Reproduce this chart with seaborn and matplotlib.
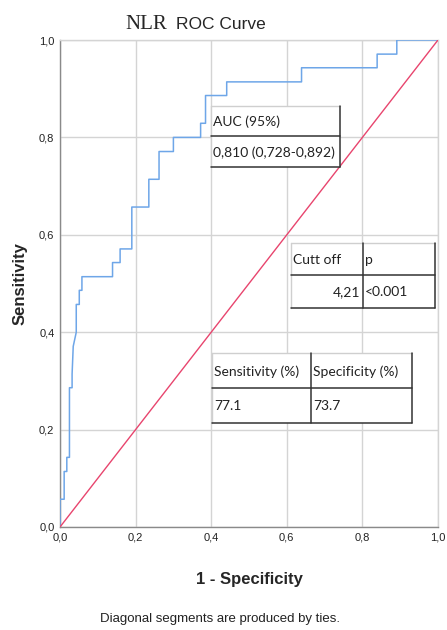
import matplotlib
matplotlib.use("Agg")
import matplotlib.pyplot as plt
import seaborn as sns
import pandas as pd

# ROC curve (1 - specificity, sensitivity)
fpr = [0.000, 0.000, 0.011, 0.011, 0.018, 0.018, 0.025, 0.025, 0.032, 0.032,
       0.035, 0.043, 0.043, 0.051, 0.051, 0.058, 0.058, 0.139, 0.139, 0.159,
       0.159, 0.190, 0.190, 0.235, 0.235, 0.262, 0.262, 0.300, 0.300, 0.372,
       0.372, 0.385, 0.385, 0.441, 0.441, 0.639, 0.639, 0.839, 0.839, 0.891,
       0.891, 1.000]
tpr = [0.000, 0.057, 0.057, 0.114, 0.114, 0.143, 0.143, 0.286, 0.286, 0.314,
       0.371, 0.400, 0.457, 0.457, 0.486, 0.486, 0.514, 0.514, 0.543, 0.543,
       0.571, 0.571, 0.657, 0.657, 0.714, 0.714, 0.771, 0.771, 0.800, 0.800,
       0.829, 0.829, 0.886, 0.886, 0.914, 0.914, 0.943, 0.943, 0.971, 0.971,
       1.000, 1.000]
ref_x = [0.0, 1.0]
ref_y = [0.0, 1.0]

ticks = [0.0, 0.2, 0.4, 0.6, 0.8, 1.0]
tick_labels = ["0,0", "0,2", "0,4", "0,6", "0,8", "1,0"]

auc_table = [["AUC (95%)"], ["0,810 (0,728-0,892)"]]
cut_table = [["Cutt off", "p"], ["4,21", "<0.001"]]
sens_table = [["Sensitivity (%)", "Specificity (%)"], ["77.1", "73.7"]]

sns.set_style("whitegrid")
plt.rcParams["font.family"] = ["Liberation Sans", "DejaVu Sans"]

fig = plt.figure(figsize=(4.47, 6.3), dpi=100)
ax = fig.add_axes([60 / 447, 103 / 630, 378 / 447, 487 / 630])

roc = pd.DataFrame({"fpr": fpr, "tpr": tpr})
sns.lineplot(data=roc, x="fpr", y="tpr", sort=False, estimator=None,
             color="#6ea6e8", lw=1.1, ax=ax, zorder=3)
sns.lineplot(x=ref_x, y=ref_y, sort=False, estimator=None,
             color="#e8456e", lw=1.0, ax=ax, zorder=4)

ax.set_xlim(0, 1)
ax.set_ylim(0, 1)
ax.set_xticks(ticks)
ax.set_yticks(ticks)
ax.set_xticklabels(tick_labels, fontsize=8)
ax.set_yticklabels(tick_labels, fontsize=8)
ax.tick_params(length=0, pad=4, colors="#222222")
ax.grid(True, color="#d4d4d4", lw=1.0)
for side in ["left", "bottom"]:
    ax.spines[side].set_color("#8a8a8a")
for side in ["top", "right"]:
    ax.spines[side].set_color("#d4d4d4")
for s in ax.spines.values():
    s.set_linewidth(1.0)

ax.set_xlabel("1 - Specificity", fontsize=12, fontweight="bold", labelpad=21)
ax.set_ylabel("Sensitivity", fontsize=12, fontweight="bold", labelpad=8)

# title: serif "NLR" + sans "ROC Curve"
fig.text(125 / 447, 1 - 29 / 630, "NLR", family="Liberation Serif",
         fontsize=15, va="baseline", ha="left")
fig.text(176 / 447, 1 - 29 / 630, "ROC Curve", fontsize=12.5,
         va="baseline", ha="left")

fig.text(220 / 447, 1 - 622 / 630, "Diagonal segments are produced by ties.",
         fontsize=9.5, ha="center", va="baseline", color="#222222")


def draw_table(rows, cols_px, rows_px, align):
    # cols_px / rows_px: pixel edges of the cells in figure pixels
    tr = lambda px, py: ((px - 60) / 378, (527 - py) / 487)
    x0, y0 = tr(cols_px[0], rows_px[-1])
    x1, y1 = tr(cols_px[-1], rows_px[0])
    ax.add_patch(plt.Rectangle((x0, y0), x1 - x0, y1 - y0, facecolor="white",
                               edgecolor="none", zorder=5,
                               transform=ax.transAxes))
    dark = dict(color="#333333", lw=1.1, zorder=6, transform=ax.transAxes)
    light = dict(color="#cfcfcf", lw=1.0, zorder=6, transform=ax.transAxes)
    ax.plot([x0, x1], [y1, y1], **light)
    ax.plot([x0, x0], [y0, y1], **light)
    ax.plot([x1, x1], [y0, y1], **dark)
    for py in rows_px[1:]:
        a, b = tr(0, py)
        ax.plot([x0, x1], [b, b], **dark)
    for px in cols_px[1:-1]:
        a, b = tr(px, 0)
        ax.plot([a, a], [y0, y1], **dark)
    for i, row in enumerate(rows):
        yc = (rows_px[i] + rows_px[i + 1]) / 2 + 1
        for j, txt in enumerate(row):
            ha = align[i][j]
            if ha == "left":
                xt = cols_px[j] + 2
            else:
                xt = cols_px[j + 1] - 3
            ax.text(*tr(xt, yc), txt, family=["Lato", "DejaVu Sans"],
                    fontsize=10, ha=ha, va="center", color="#222222",
                    zorder=7, transform=ax.transAxes)


draw_table(auc_table, [211, 340], [106, 136, 167], [["left"], ["left"]])
draw_table(cut_table, [291, 363, 435], [243, 275, 308],
           [["left", "left"], ["right", "left"]])
draw_table(sens_table, [212, 311, 412], [353, 388, 423],
           [["left", "left"], ["left", "left"]])

fig.savefig("out.png", dpi=100)
